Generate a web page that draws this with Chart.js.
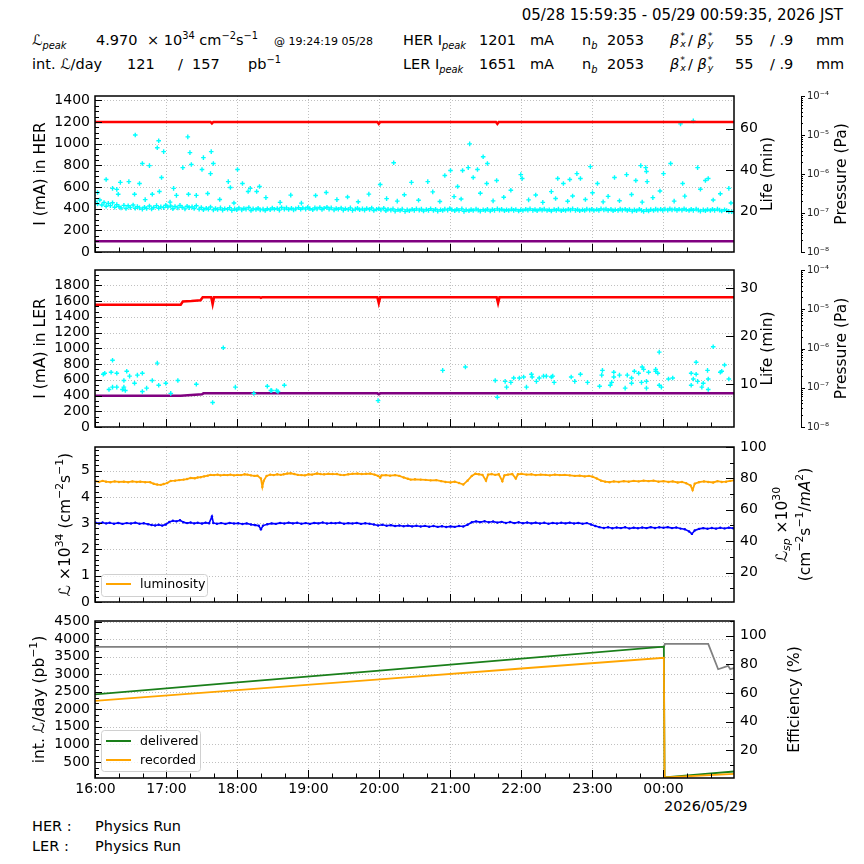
<!DOCTYPE html>
<html>
<head>
<meta charset="utf-8">
<script src="https://cdn.jsdelivr.net/npm/chart.js@4.4.1/dist/chart.umd.min.js"></script>
<style>
  body { margin: 0; background: #fff; width: 864px; height: 864px; overflow: hidden; position: relative;
         font-family: 'DejaVu Sans', sans-serif; color: #000; }
  canvas { position: absolute; left: 0; }
  .t { position: absolute; white-space: nowrap; font-size: 14.5px; line-height: 1; }
  .t sub, .t sup { font-size: 68%; line-height: 0; }
  .sm { font-size: 11px; }
  .ss { position: relative; display: inline-block; width: 0.6em; height: 1em; vertical-align: top; }
  .ss .u { position: absolute; left: 1px; top: -0.2em; font-size: 65%; }
  .ss .d { position: absolute; left: 1px; top: 0.6em; font-size: 65%; font-style: italic; }
</style>
</head>
<body>
<div class="t" style="right:21px;top:8px;font-size:15px">05/28 15:59:35 - 05/29 00:59:35, 2026 JST</div>

<div class="t" style="left:32px;top:33px"><i>ℒ</i><sub><i>peak</i></sub></div>
<div class="t" style="left:96px;top:33px">4.970</div>
<div class="t" style="left:147px;top:33px">× 10<sup>34</sup> cm<sup>−2</sup>s<sup>−1</sup></div>
<div class="t sm" style="left:274px;top:36px">@ 19:24:19 05/28</div>
<div class="t" style="left:403px;top:33px">HER I<sub><i>peak</i></sub></div>
<div class="t" style="left:479px;top:33px">1201</div>
<div class="t" style="left:530px;top:33px">mA</div>
<div class="t" style="left:582px;top:33px">n<sub><i>b</i></sub></div>
<div class="t" style="left:607px;top:33px">2053</div>
<div class="t" style="left:670px;top:33px"><i>β</i><span class="ss"><span class="u">*</span><span class="d">x</span></span>/ <i>β</i><span class="ss"><span class="u">*</span><span class="d">y</span></span></div>
<div class="t" style="left:735px;top:33px">55</div>
<div class="t" style="left:770px;top:33px">/ .9</div>
<div class="t" style="left:816px;top:33px">mm</div>

<div class="t" style="left:32px;top:57px">int. <i>ℒ</i>/day</div>
<div class="t" style="left:127px;top:57px">121</div>
<div class="t" style="left:178px;top:57px">/</div>
<div class="t" style="left:192px;top:57px">157</div>
<div class="t" style="left:248px;top:57px">pb<sup>−1</sup></div>
<div class="t" style="left:403px;top:57px">LER I<sub><i>peak</i></sub></div>
<div class="t" style="left:479px;top:57px">1651</div>
<div class="t" style="left:530px;top:57px">mA</div>
<div class="t" style="left:582px;top:57px">n<sub><i>b</i></sub></div>
<div class="t" style="left:607px;top:57px">2053</div>
<div class="t" style="left:670px;top:57px"><i>β</i><span class="ss"><span class="u">*</span><span class="d">x</span></span>/ <i>β</i><span class="ss"><span class="u">*</span><span class="d">y</span></span></div>
<div class="t" style="left:735px;top:57px">55</div>
<div class="t" style="left:770px;top:57px">/ .9</div>
<div class="t" style="left:816px;top:57px">mm</div>

<div class="t" style="left:664px;top:799px">2026/05/29</div>
<div class="t" style="left:32px;top:819px">HER :</div>
<div class="t" style="left:95px;top:819px">Physics Run</div>
<div class="t" style="left:32px;top:839px">LER :</div>
<div class="t" style="left:95px;top:839px">Physics Run</div>

<script>
// time axis: hours after 16:00 on 05/28
const X_MIN = -0.007, X_MAX = 8.993;
const TIME_TICKS = [0, 1, 2, 3, 4, 5, 6, 7, 8];
const TIME_LABELS = ['16:00', '17:00', '18:00', '19:00', '20:00', '21:00', '22:00', '23:00', '00:00'];

const PRESSURE_TICKS = [1e-8, 1e-7, 1e-6, 1e-5, 1e-4];
const PRESSURE_LABELS = ['10⁻⁸', '10⁻⁷', '10⁻⁶', '10⁻⁵', '10⁻⁴'];

// ---- HER panel ----
const herTicks = [0, 200, 400, 600, 800, 1000, 1200, 1400];
const herLifeTicks = [20, 40, 60];
const herCurrent = [[-0.01,1200],[1.62,1200],[1.64,1186],[1.66,1200],[3.97,1200],[3.99,1183],[4.01,1200],
  [5.64,1200],[5.66,1183],[5.68,1200],[9,1200]];
const herPressure = [[-0.01,1.9e-8],[9,1.9e-8]];
const herLife = [
  [0.00,24.6],[0.03,23.4],[0.06,25.3],[0.09,22.9],[0.12,24.1],[0.15,22.3],[0.18,23.7],[0.21,22.6],[0.24,24.0],[0.27,21.8],
  [0.30,23.1],[0.33,22.2],[0.36,21.4],[0.40,22.7],[0.43,21.2],[0.46,22.5],[0.49,21.7],[0.53,22.9],[0.56,21.3],[0.59,22.1],
  [0.62,21.5],[0.66,20.9],[0.69,21.8],[0.72,21.2],[0.76,22.4],[0.79,21.0],[0.82,21.7],[0.86,22.6],[0.89,21.3],[0.92,22.0],
  [0.96,21.6],[0.99,22.8],[1.02,21.9],[1.06,22.4],[1.09,21.1],[1.12,22.2],[1.16,21.5],[1.19,22.7],[1.22,21.8],[1.26,21.0],
  [1.29,22.3],[1.32,21.6],[1.36,22.0],[1.39,21.2],[1.42,22.5],[1.46,20.9],[1.49,21.7],[1.52,20.6],[1.56,21.3],[1.59,20.8],
  [1.62,21.9],[1.66,20.5],[1.69,21.2],[1.72,20.7],[1.76,21.5],[1.79,20.4],[1.82,21.1],[1.86,20.8],[1.89,21.6],[1.92,20.3],
  [1.96,21.0],[1.99,20.6],[2.02,21.4],[2.06,20.5],[2.09,21.2],[2.12,20.9],[2.16,21.7],[2.19,20.2],[2.22,21.0],[2.26,20.7],
  [2.29,21.3],[2.32,20.5],[2.36,20.9],[2.39,20.2],[2.42,21.1],[2.46,20.6],[2.49,21.4],[2.52,20.8],[2.56,21.2],[2.59,20.4],
  [2.62,21.7],[2.66,20.9],[2.69,21.5],[2.72,20.7],[2.76,21.3],[2.79,20.5],[2.82,21.0],[2.86,21.6],[2.89,20.8],[2.92,21.4],
  [2.96,20.9],[2.99,21.8],[3.02,21.1],[3.06,20.6],[3.09,21.5],[3.12,21.0],[3.16,21.7],[3.19,20.7],[3.22,21.3],[3.26,21.8],
  [3.29,20.9],[3.32,21.5],[3.36,20.5],[3.39,21.2],[3.42,20.8],[3.46,21.4],[3.49,20.4],[3.52,21.1],[3.56,20.7],[3.59,21.5],
  [3.62,20.3],[3.66,20.9],[3.69,21.3],[3.72,20.6],[3.76,21.0],[3.79,20.4],[3.82,21.2],[3.86,20.7],[3.89,21.4],[3.92,20.2],
  [3.96,20.8],[3.99,21.1],[4.02,20.5],[4.06,21.3],[4.09,20.1],[4.12,20.8],[4.16,20.4],[4.19,21.0],[4.22,19.9],[4.26,20.6],
  [4.29,20.2],[4.32,20.9],[4.36,19.8],[4.39,20.5],[4.42,20.1],[4.46,20.8],[4.49,20.3],[4.52,21.0],[4.56,20.4],[4.59,20.9],
  [4.62,20.0],[4.66,20.7],[4.69,20.3],[4.72,21.1],[4.76,20.2],[4.79,20.8],[4.82,19.9],[4.86,20.6],[4.89,20.2],[4.92,20.9],
  [4.96,20.4],[4.99,21.2],[5.02,20.6],[5.06,20.1],[5.09,20.8],[5.12,20.3],[5.16,21.0],[5.19,19.8],[5.22,20.5],[5.26,20.1],
  [5.29,20.7],[5.32,20.2],[5.36,20.9],[5.39,20.4],[5.42,19.9],[5.46,20.6],[5.49,20.2],[5.52,20.8],[5.56,20.0],[5.59,20.7],
  [5.62,20.3],[5.66,21.0],[5.69,20.4],[5.72,20.8],[5.76,20.1],[5.79,20.6],[5.82,20.2],[5.86,20.9],[5.89,20.3],[5.92,20.7],
  [5.96,20.0],[5.99,20.6],[6.02,20.2],[6.06,20.8],[6.09,20.4],[6.12,21.0],[6.16,20.3],[6.19,20.7],[6.22,20.1],[6.26,20.8],
  [6.29,20.4],[6.32,20.9],[6.36,20.2],[6.39,20.6],[6.42,20.0],[6.46,20.7],[6.49,20.3],[6.52,20.9],[6.56,20.1],[6.59,20.6],
  [6.62,20.2],[6.66,20.8],[6.69,20.4],[6.72,21.0],[6.76,20.3],[6.79,20.7],[6.82,20.1],[6.86,20.6],[6.89,20.2],[6.92,20.9],
  [6.96,20.4],[6.99,20.8],[7.02,20.2],[7.06,20.7],[7.09,20.3],[7.12,21.0],[7.16,20.5],[7.19,20.9],[7.22,20.3],[7.26,20.8],
  [7.29,20.1],[7.32,20.6],[7.36,20.3],[7.39,20.9],[7.42,20.4],[7.46,20.8],[7.49,20.2],[7.52,20.7],[7.56,19.9],[7.59,20.5],
  [7.62,20.1],[7.66,20.8],[7.69,20.3],[7.72,19.8],[7.76,20.5],[7.79,20.0],[7.82,20.7],[7.86,20.2],[7.89,20.9],[7.92,20.4],
  [7.96,20.8],[7.99,20.3],[8.02,20.9],[8.06,20.4],[8.09,21.0],[8.12,20.5],[8.16,20.9],[8.19,20.3],[8.22,20.8],[8.26,20.4],
  [8.29,21.0],[8.32,20.6],[8.36,20.2],[8.39,20.8],[8.42,20.3],[8.46,20.9],[8.49,20.4],[8.52,19.9],[8.56,20.5],[8.59,20.1],
  [8.62,20.7],[8.66,20.2],[8.69,20.8],[8.72,20.3],[8.76,20.9],[8.79,20.4],[8.82,20.0],[8.86,20.6],[8.89,20.2],[8.92,19.8],
  [8.96,19.6],[8.99,19.7],
  // scattered higher readings
  [0.56,57.0],[0.89,54.2],[0.87,50.8],[0.96,48.9],[0.66,43.1],[0.76,42.1],[1.30,56.1],[1.33,48.4],[1.35,42.6],[1.52,46.0],
  [1.50,40.2],[1.63,48.9],[1.66,43.1],[1.62,38.2],[1.23,41.1],[2.00,40.2],[0.93,36.3],[0.15,35.3],[0.47,34.3],[0.35,33.9],
  [0.62,33.4],[1.87,34.3],[2.07,33.4],[0.24,31.0],[0.30,30.5],[1.10,31.0],[1.90,31.4],[2.18,31.0],[2.15,29.5],[2.31,31.9],
  [0.03,29.0],[0.90,29.5],[1.31,28.1],[1.58,28.5],[1.14,27.6],[0.32,28.1],[0.55,28.1],[0.80,28.1],[1.42,27.6],[2.27,29.5],
  [5.27,52.7],[5.46,46.4],[5.52,43.1],[5.25,41.1],[5.17,39.7],[5.38,40.2],[5.32,36.3],[5.51,33.4],[5.65,34.8],[4.92,37.3],
  [5.00,39.7],[4.20,43.5],[4.68,34.3],[5.10,31.9],[4.45,33.9],[4.01,32.9],[5.99,37.7],[6.01,35.8],[6.51,35.8],[6.59,33.4],
  [6.68,35.3],[6.78,38.2],[6.83,35.8],[6.97,41.6],[7.07,33.4],[7.31,36.3],[7.48,37.7],[7.61,34.8],[7.68,42.1],[7.75,41.1],
  [7.76,39.2],[7.77,34.3],[8.00,38.2],[8.10,43.1],[8.24,62.4],[8.42,63.9],[8.48,41.1],[8.59,34.8],[8.63,35.8],[8.27,33.4],
  [8.92,31.0],
  [3.10,27.5],[3.25,29.0],[3.40,25.5],[3.55,26.8],[3.70,24.5],[3.85,28.2],[4.10,26.0],[4.25,24.8],[4.35,27.9],[4.55,25.2],
  [4.75,29.3],[4.85,24.6],[5.05,27.0],[5.15,25.8],[5.42,28.6],[5.60,24.9],[5.75,26.7],[5.85,30.1],[6.10,25.4],[6.20,27.8],
  [6.30,24.2],[6.42,29.4],[6.48,26.1],[6.65,24.7],[6.72,27.3],[6.90,25.6],[7.00,28.9],[7.15,24.4],[7.22,27.1],[7.38,25.0],
  [7.55,28.0],[7.70,24.3],[7.85,26.5],[7.95,29.7],[8.15,24.8],[8.30,27.2],[8.52,30.6],[8.70,25.3],[8.80,28.4],[8.95,23.9],
  [2.40,26.5],[2.60,24.2],[2.75,27.7],[2.90,23.8],[1.75,25.6],[1.95,23.9],[0.70,25.5],[1.05,24.3]
];

// ---- LER panel ----
const lerTicks = [0, 200, 400, 600, 800, 1000, 1200, 1400, 1600, 1800];
const lerLifeTicks = [10, 20, 30];
const lerCurrent = [[-0.01,1555],[1.20,1555],[1.23,1595],[1.35,1600],[1.48,1610],[1.51,1648],[1.63,1650],[1.65,1560],
  [1.67,1650],[2.31,1650],[2.33,1640],[2.35,1650],[3.97,1650],[3.99,1575],[4.01,1650],[5.65,1650],[5.67,1575],
  [5.69,1650],[9,1650]];
const lerPressure = [[-0.01,6.3e-8],[1.20,6.3e-8],[1.50,6.8e-8],[1.52,7.2e-8],[3.97,7.2e-8],[3.99,6.8e-8],[4.01,7.2e-8],[9,7.2e-8]];
const lerLife = [
  [0.11,12.1],[0.13,12.3],[0.19,8.9],[0.22,12.5],[0.24,15.0],[0.24,9.4],[0.30,12.3],[0.30,9.4],[0.38,8.9],[0.40,10.8],
  [0.40,9.4],[0.42,8.7],[0.44,12.7],[0.48,11.7],[0.55,10.2],[0.59,11.9],[0.66,12.3],[0.66,8.5],[0.72,9.2],[0.80,10.8],
  [0.87,14.4],[0.89,9.8],[0.99,10.2],[1.06,8.1],[1.16,10.8],[1.42,10.0],[1.65,6.2],[1.80,17.6],[1.97,9.4],[2.23,8.1],
  [2.42,9.6],[2.47,8.7],[2.48,8.7],[2.55,8.7],[2.57,8.5],[2.66,9.8],[3.98,6.6],
  [4.89,12.9],[5.21,13.6],[5.63,10.8],[5.66,7.3],[5.77,10.6],[5.79,9.4],[5.85,10.4],[5.89,11.3],[5.97,11.3],[6.03,11.5],
  [6.07,9.4],[6.14,12.1],[6.15,11.5],[6.21,10.6],[6.25,11.3],[6.31,11.7],[6.35,11.7],[6.42,11.5],[6.44,11.7],[6.46,10.4],
  [6.70,11.5],[6.75,10.6],[6.83,12.1],[6.93,10.4],[7.10,9.6],[7.13,11.9],[7.14,12.9],[7.25,9.8],[7.27,10.4],[7.30,12.5],
  [7.30,11.5],[7.38,11.9],[7.46,9.2],[7.49,11.9],[7.55,11.3],[7.55,10.2],[7.59,12.7],[7.65,12.3],[7.69,10.4],[7.70,13.6],
  [7.72,13.1],[7.76,10.6],[7.76,9.2],[7.79,12.5],[7.89,13.1],[7.89,12.7],[7.92,12.3],[7.94,16.7],[7.94,9.8],[7.97,9.4],
  [8.07,11.1],[8.13,11.3],[8.39,12.3],[8.39,9.8],[8.42,11.1],[8.46,14.6],[8.46,12.1],[8.48,10.6],[8.54,9.4],[8.56,10.2],
  [8.62,12.9],[8.63,11.1],[8.63,8.9],[8.70,17.8],[8.80,12.5],[8.82,12.7],[8.86,14.0],[8.92,11.1]
];

// ---- luminosity panel ----
const lumTicks = [0, 1, 2, 3, 4, 5];
const lspTicks = [20, 40, 60, 80, 100];
const luminosity = [
  [0.00,4.60],[0.05,4.57],[0.10,4.61],[0.15,4.58],[0.21,4.56],[0.27,4.59],[0.33,4.57],[0.40,4.58],[0.46,4.56],[0.52,4.59],
  [0.58,4.57],[0.63,4.58],[0.70,4.56],[0.77,4.56],[0.82,4.50],[0.87,4.47],[0.92,4.46],[0.96,4.49],[1.01,4.53],[1.06,4.61],
  [1.12,4.62],[1.18,4.64],[1.24,4.66],[1.29,4.68],[1.34,4.72],[1.40,4.71],[1.44,4.74],[1.48,4.75],[1.53,4.78],[1.58,4.81],
  [1.62,4.84],[1.67,4.83],[1.72,4.85],[1.76,4.82],[1.81,4.84],[1.86,4.83],[1.90,4.85],[1.95,4.82],[2.00,4.84],[2.05,4.83],
  [2.10,4.86],[2.14,4.85],[2.19,4.82],[2.24,4.80],[2.28,4.81],[2.33,4.70],[2.35,4.38],[2.37,4.62],[2.41,4.80],[2.46,4.85],
  [2.51,4.83],[2.56,4.86],[2.61,4.84],[2.65,4.86],[2.70,4.89],[2.75,4.90],[2.80,4.87],[2.85,4.84],[2.90,4.83],[2.95,4.82],
  [3.00,4.86],[3.05,4.85],[3.12,4.89],[3.17,4.87],[3.22,4.86],[3.28,4.88],[3.34,4.87],[3.40,4.87],[3.45,4.84],[3.50,4.83],
  [3.56,4.86],[3.62,4.88],[3.69,4.89],[3.75,4.87],[3.81,4.88],[3.87,4.89],[3.93,4.85],[3.98,4.80],[4.01,4.73],[4.03,4.82],
  [4.09,4.83],[4.15,4.81],[4.22,4.83],[4.28,4.80],[4.34,4.74],[4.40,4.69],[4.44,4.66],[4.50,4.67],[4.58,4.66],[4.65,4.65],
  [4.72,4.63],[4.80,4.64],[4.87,4.60],[4.93,4.57],[5.00,4.55],[5.06,4.58],[5.12,4.53],[5.18,4.47],[5.24,4.62],[5.30,4.80],
  [5.35,4.88],[5.40,4.86],[5.45,4.84],[5.50,4.62],[5.53,4.85],[5.58,4.87],[5.63,4.84],[5.68,4.86],[5.73,4.60],[5.76,4.82],
  [5.81,4.85],[5.87,4.87],[5.92,4.70],[5.95,4.86],[6.00,4.88],[6.07,4.85],[6.14,4.86],[6.20,4.83],[6.27,4.85],[6.34,4.84],
  [6.40,4.82],[6.47,4.85],[6.54,4.83],[6.61,4.84],[6.68,4.82],[6.75,4.80],[6.82,4.81],[6.89,4.78],[6.95,4.80],[7.00,4.77],
  [7.06,4.70],[7.12,4.62],[7.18,4.58],[7.24,4.56],[7.30,4.59],[7.37,4.57],[7.44,4.60],[7.51,4.58],[7.58,4.61],[7.65,4.59],
  [7.72,4.62],[7.79,4.60],[7.86,4.62],[7.93,4.58],[8.00,4.60],[8.07,4.57],[8.13,4.59],[8.20,4.55],[8.26,4.57],[8.32,4.52],
  [8.38,4.44],[8.41,4.26],[8.44,4.50],[8.50,4.56],[8.57,4.59],[8.63,4.57],[8.70,4.55],[8.76,4.60],[8.82,4.57],[8.88,4.58],
  [8.94,4.61],[9.00,4.63]
];
const specificLum = [
  [0.00,51.8],[0.05,51.2],[0.10,51.9],[0.15,51.3],[0.20,51.7],[0.26,51.1],[0.32,51.6],[0.38,51.0],[0.44,51.5],[0.50,51.2],
  [0.56,51.8],[0.62,51.1],[0.68,51.4],[0.74,50.8],[0.79,50.3],[0.84,50.0],[0.89,50.4],[0.94,49.9],[0.99,50.6],[1.04,52.2],
  [1.09,53.0],[1.14,52.6],[1.19,53.3],[1.24,52.0],[1.29,51.5],[1.34,51.9],[1.39,51.3],[1.44,51.7],[1.50,51.2],[1.55,51.8],
  [1.60,51.4],[1.64,55.7],[1.66,51.6],[1.71,51.1],[1.77,51.5],[1.83,51.0],[1.89,51.6],[1.95,51.2],[2.01,51.4],[2.07,50.9],
  [2.13,51.3],[2.19,50.6],[2.25,50.2],[2.30,49.8],[2.33,47.5],[2.36,49.9],[2.42,50.8],[2.48,51.3],[2.54,51.0],[2.60,51.6],
  [2.66,51.2],[2.72,51.8],[2.78,51.3],[2.84,51.7],[2.90,51.1],[2.96,51.5],[3.02,51.0],[3.08,51.6],[3.14,51.3],[3.20,51.9],
  [3.26,51.2],[3.32,51.6],[3.38,51.4],[3.44,51.8],[3.50,51.1],[3.56,51.5],[3.62,51.2],[3.68,51.6],[3.74,51.0],[3.80,51.4],
  [3.86,51.1],[3.92,50.6],[3.98,50.0],[4.04,50.4],[4.10,49.8],[4.16,50.2],[4.22,49.6],[4.28,50.0],[4.34,49.5],[4.40,49.9],
  [4.46,49.4],[4.52,49.8],[4.58,49.3],[4.64,49.7],[4.70,49.2],[4.76,49.6],[4.82,49.1],[4.88,49.5],[4.94,49.0],[5.00,49.4],
  [5.06,49.1],[5.12,49.6],[5.18,49.3],[5.24,50.4],[5.30,52.0],[5.36,52.6],[5.42,52.1],[5.48,52.7],[5.54,52.0],[5.60,52.5],
  [5.66,51.8],[5.72,52.3],[5.78,51.6],[5.84,52.2],[5.90,51.5],[5.96,52.0],[6.02,51.4],[6.08,51.9],[6.14,51.3],[6.20,51.8],
  [6.26,51.2],[6.32,51.7],[6.38,51.1],[6.44,51.6],[6.50,51.2],[6.56,51.7],[6.62,51.3],[6.68,51.8],[6.74,51.2],[6.80,51.6],
  [6.86,51.1],[6.92,51.5],[6.98,50.6],[7.04,49.6],[7.10,48.9],[7.16,48.4],[7.22,48.8],[7.28,48.2],[7.34,48.7],[7.40,48.3],
  [7.46,48.8],[7.52,48.1],[7.58,48.6],[7.64,48.2],[7.70,48.7],[7.76,48.3],[7.82,48.9],[7.88,48.4],[7.94,48.8],[8.00,48.5],
  [8.06,48.9],[8.12,48.3],[8.18,48.7],[8.24,48.0],[8.30,47.6],[8.36,46.2],[8.40,44.6],[8.44,46.8],[8.50,47.8],[8.56,48.3],
  [8.62,47.9],[8.68,48.4],[8.74,48.0],[8.80,48.5],[8.86,48.1],[8.92,48.6],[8.98,48.2]
];

// ---- integrated luminosity panel ----
const intTicks = [500, 1000, 1500, 2000, 2500, 3000, 3500, 4000, 4500];
const effTicks = [20, 40, 60, 80, 100];
const delivered = [[-0.01,2426],[2,2766],[4,3106],[6,3446],[8.005,3786],[8.015,60],[9,226]];
const recorded = [[-0.01,2243],[2,2550],[4,2857],[6,3164],[8.005,3471],[8.015,55],[9,157]];
const efficiency = [[-0.01,92.2],[8.005,92.2],[8.02,94.3],[8.63,94.3],[8.77,76.6],[8.91,79.0],[8.94,76.6],[9,77.5]];

// ---------------------------------------------------------------
const FONT = "'DejaVu Sans', sans-serif";
Chart.defaults.font.family = FONT;
Chart.defaults.font.size = 14;
Chart.defaults.color = '#000';

const PAD = 16;
const PANEL = {};   // per canvas drawing extras
const pts = a => a.map(([x, y]) => ({ x, y }));

function fontFor(s, size) {
  const sz = (s.sup || s.sub) ? size * 0.7 : size;
  return (s.it ? 'italic ' : '') + sz + 'px ' + FONT;
}
function richWidth(ctx, segs, size) {
  let w = 0;
  segs.forEach(s => { ctx.font = fontFor(s, size); w += ctx.measureText(s.t).width; });
  return w;
}
function drawRich(ctx, segs, x, y, size) {
  ctx.textBaseline = 'middle';
  ctx.textAlign = 'left';
  segs.forEach(s => {
    ctx.font = fontFor(s, size);
    const dy = s.sup ? -size * 0.38 : s.sub ? size * 0.3 : 0;
    ctx.fillText(s.t, x, y + dy);
    x += ctx.measureText(s.t).width;
  });
}

function minorValues(min, max, step, majors) {
  const out = [];
  if (!step) return out;
  for (let k = Math.ceil(min / step - 1e-9); k * step <= max + 1e-9; k++) {
    const v = k * step;
    if (!majors.some(m => Math.abs(m - v) < step * 1e-3)) out.push(v);
  }
  return out;
}

const mplPlugin = {
  id: 'mpl',
  beforeDatasetsDraw(chart) {
    const cfg = PANEL[chart.canvas.id];
    const { ctx, chartArea: a } = chart;
    ctx.save();
    ctx.strokeStyle = '#b0b0b0';
    ctx.lineWidth = 0.8;
    ctx.setLineDash([1, 2]);
    ctx.beginPath();
    const xs = chart.scales.x;
    TIME_TICKS.forEach(v => {
      const p = Math.round(xs.getPixelForValue(v)) + 0.5;
      ctx.moveTo(p, a.top); ctx.lineTo(p, a.bottom);
    });
    const ys = chart.scales.y;
    cfg.yGrid.forEach(v => {
      const p = Math.round(ys.getPixelForValue(v)) + 0.5;
      ctx.moveTo(a.left, p); ctx.lineTo(a.right, p);
    });
    ctx.stroke();
    ctx.restore();
  },
  afterDatasetsDraw(chart) {
    const cfg = PANEL[chart.canvas.id];
    const { ctx, chartArea: a } = chart;
    ctx.save();
    ctx.strokeStyle = '#000';
    ctx.lineWidth = 1;
    ctx.beginPath();
    cfg.ticks.forEach(t => {
      const s = chart.scales[t.axis];
      const draw = (v, len) => {
        const p = Math.round(s.getPixelForValue(v)) + 0.5;
        if (t.side === 'left') { ctx.moveTo(a.left, p); ctx.lineTo(a.left + len, p); }
        else if (t.side === 'right') { ctx.moveTo(a.right, p); ctx.lineTo(a.right - len, p); }
        else if (t.side === 'bottom') { ctx.moveTo(p, a.bottom); ctx.lineTo(p, a.bottom - len); }
        else if (t.side === 'spine') { ctx.moveTo(s.left, p); ctx.lineTo(s.left + len, p); }
      };
      t.major.forEach(v => draw(v, t.majLen));
      t.minorList.forEach(v => draw(v, t.minLen));
    });
    ctx.stroke();
    // separate pressure spine
    if (chart.scales.p) {
      const s = chart.scales.p;
      ctx.beginPath();
      ctx.moveTo(Math.round(s.left) + 0.5, a.top);
      ctx.lineTo(Math.round(s.left) + 0.5, a.bottom);
      ctx.stroke();
    }
    ctx.lineWidth = 1.5;
    ctx.strokeRect(a.left, a.top, a.right - a.left, a.bottom - a.top);
    ctx.restore();
  },
  afterDraw(chart) {
    const cfg = PANEL[chart.canvas.id];
    const { ctx, chartArea: a } = chart;
    const yc = (a.top + a.bottom) / 2;
    ctx.save();
    ctx.fillStyle = '#000';
    cfg.titles.forEach(tt => {
      const size = tt.size || 15.5;
      ctx.save();
      ctx.translate(tt.x, yc + (tt.dy || 0));
      ctx.rotate(-Math.PI / 2);
      drawRich(ctx, tt.segs, -richWidth(ctx, tt.segs, size) / 2, 0, size);
      ctx.restore();
    });
    if (cfg.legend) {
      const L = cfg.legend, off = cfg.top;
      ctx.beginPath();
      ctx.roundRect(L.x + 0.5, L.y - off + 0.5, L.w, L.h, 3);
      ctx.fillStyle = 'rgba(255,255,255,0.8)';
      ctx.fill();
      ctx.strokeStyle = '#d0d0d0';
      ctx.lineWidth = 1;
      ctx.stroke();
      L.items.forEach(it => {
        const y = it.y - off;
        ctx.strokeStyle = it.color;
        ctx.lineWidth = 2;
        ctx.beginPath();
        ctx.moveTo(L.x + 5, y); ctx.lineTo(L.x + 30, y);
        ctx.stroke();
        ctx.fillStyle = '#000';
        ctx.font = '12.6px ' + FONT;
        ctx.textBaseline = 'middle';
        ctx.textAlign = 'left';
        ctx.fillText(it.label, L.x + 39, y + 1);
      });
    }
    ctx.restore();
  }
};

function xScale(labels) {
  return {
    type: 'linear', min: X_MIN, max: X_MAX,
    grid: { display: false, drawTicks: false }, border: { display: false },
    afterBuildTicks: s => { s.ticks = TIME_TICKS.map(v => ({ value: v })); },
    afterFit: s => { s.height = labels ? 28 : PAD; },
    ticks: { display: labels, autoSkip: false, maxRotation: 0, padding: 3,
             callback: (v, i) => TIME_LABELS[i] }
  };
}
function yScale(position, min, max, ticks, width, pad) {
  return {
    type: 'linear', position, min, max,
    grid: { display: false, drawTicks: false }, border: { display: false },
    afterBuildTicks: s => { s.ticks = ticks.map(v => ({ value: v })); },
    afterFit: s => { s.width = width; },
    ticks: { autoSkip: false, padding: pad, callback: v => String(v) }
  };
}
function pressureScale() {
  return {
    type: 'logarithmic', position: 'right', min: 1e-8, max: 1e-4, weight: 1,
    grid: { display: false, drawTicks: false }, border: { display: false },
    afterBuildTicks: s => { s.ticks = PRESSURE_TICKS.map(v => ({ value: v })); },
    afterFit: s => { s.width = 63; },
    ticks: { autoSkip: false, padding: 6, color: '#222', font: { size: 10 },
             callback: (v, i) => PRESSURE_LABELS[i] }
  };
}
function pressureMinors() {
  const out = [];
  for (let d = -8; d < -4; d++) for (let m = 2; m <= 9; m++) out.push(m * Math.pow(10, d));
  return out;
}

function line(data, color, width, axis) {
  return { data: pts(data), borderColor: color, borderWidth: width, pointRadius: 0, yAxisID: axis, tension: 0, fill: false };
}
function dots(data, color, axis, style, r, bw) {
  return { data: pts(data), showLine: false, pointStyle: style, pointRadius: r, pointBorderWidth: bw,
           pointBorderColor: color, pointBackgroundColor: color, yAxisID: axis };
}

function panel(id, plotTop, plotH, xLabels, scales, datasets, cfg) {
  const c = document.createElement('canvas');
  c.id = id;
  const xH = xLabels ? 28 : PAD;
  c.width = 864;
  c.height = PAD + plotH + xH;
  c.style.top = (plotTop - PAD) + 'px';
  document.body.appendChild(c);
  cfg.top = plotTop - PAD;
  cfg.ticks.push({ axis: 'x', side: 'bottom', major: TIME_TICKS, minorList: minorValues(X_MIN, X_MAX, 1 / 3, TIME_TICKS), majLen: 8, minLen: 4.5 });
  PANEL[id] = cfg;
  return new Chart(c, {
    type: 'line',
    data: { datasets },
    options: {
      responsive: false, animation: false, devicePixelRatio: 1, events: [],
      layout: { padding: { top: PAD, left: 0, right: 0, bottom: 0 } },
      scales,
      plugins: { legend: { display: false }, tooltip: { enabled: false } }
    },
    plugins: [mplPlugin]
  });
}

function leftTicks(min, max, major, step) {
  return { axis: 'y', side: 'left', major, minorList: minorValues(min, max, step, major), majLen: 7, minLen: 4 };
}
function rightTicks(min, max, major, step) {
  return { axis: 'y1', side: 'right', major, minorList: minorValues(min, max, step, major), majLen: 8, minLen: 4 };
}
const pTicks = () => ({ axis: 'p', side: 'spine', major: PRESSURE_TICKS, minorList: pressureMinors(), majLen: 4, minLen: 2 });

// HER
panel('her', 96, 156, false, {
  x: xScale(false),
  y: yScale('left', 0, 1440, herTicks, 95, 5),
  y1: yScale('right', 0, 76, herLifeTicks, 67, 6),
  p: pressureScale()
}, [
  line(herCurrent, '#ff0000', 2.5, 'y'),
  dots(herLife, '#00ffff', 'y1', 'cross', 2.3, 1.4),
  line(herPressure, '#800080', 2.5, 'p')
], {
  yGrid: herTicks,
  ticks: [leftTicks(0, 1440, herTicks, 50), rightTicks(0, 76, herLifeTicks, 0), pTicks()],
  titles: [
    { x: 41, segs: [{ t: 'I (mA) in HER' }] },
    { x: 768, segs: [{ t: 'Life (min)' }] },
    { x: 842, segs: [{ t: 'Pressure (Pa)' }] }
  ]
});

// LER
panel('ler', 270, 157, false, {
  x: xScale(false),
  y: yScale('left', 0, 1995, lerTicks, 95, 5),
  y1: yScale('right', 1.1, 33.8, lerLifeTicks, 67, 6),
  p: pressureScale()
}, [
  line(lerCurrent, '#ff0000', 2.5, 'y'),
  dots(lerLife, '#00ffff', 'y1', 'cross', 2.3, 1.4),
  line(lerPressure, '#800080', 2.5, 'p')
], {
  yGrid: lerTicks,
  ticks: [leftTicks(0, 1995, lerTicks, 200 / 3), rightTicks(1.1, 33.8, lerLifeTicks, 0), pTicks()],
  titles: [
    { x: 41, segs: [{ t: 'I (mA) in LER' }] },
    { x: 768, segs: [{ t: 'Life (min)' }] },
    { x: 842, segs: [{ t: 'Pressure (Pa)' }] }
  ]
});

// luminosity
panel('lum', 447, 155, false, {
  x: xScale(false),
  y: yScale('left', 0, 5.9, lumTicks, 95, 5),
  y1: yScale('right', 1.2, 100, lspTicks, 130, 6)
}, [
  { ...line(luminosity, '#ffa500', 1.8, 'y'), pointRadius: 1.2, pointBackgroundColor: '#ffa500', pointBorderWidth: 0 },
  { ...line(specificLum, '#0000ff', 1.6, 'y1'), pointRadius: 1.2, pointBackgroundColor: '#0000ff', pointBorderWidth: 0 }
], {
  yGrid: lumTicks,
  ticks: [leftTicks(0, 5.9, lumTicks, 0.2), rightTicks(1.2, 100, lspTicks, 10)],
  titles: [
    { x: 66, segs: [{ t: 'ℒ', it: true }, { t: ' ×10' }, { t: '34', sup: true }, { t: ' (cm' }, { t: '−2', sup: true }, { t: 's' }, { t: '−1', sup: true }, { t: ')' }] },
    { x: 783, segs: [{ t: 'ℒ', it: true }, { t: 'sp', sub: true, it: true }, { t: ' ×10' }, { t: '30', sup: true }] },
    { x: 806, segs: [{ t: '(cm' }, { t: '−2', sup: true }, { t: 's' }, { t: '−1', sup: true }, { t: '/' }, { t: 'mA', it: true }, { t: '2', sup: true }, { t: ')' }] }
  ],
  legend: { x: 101, y: 574, w: 106, h: 22, items: [{ label: 'luminosity', color: '#ffa500', y: 584 }] }
});

// integrated luminosity
panel('int', 621, 157, true, {
  x: xScale(true),
  y: yScale('left', 40, 4520, intTicks, 95, 5),
  y1: yScale('right', 0.6, 110.3, effTicks, 130, 6)
}, [
  line(recorded, '#ffa500', 1.8, 'y'),
  line(delivered, '#1a7f1a', 1.8, 'y'),
  line(efficiency, '#808080', 1.8, 'y1')
], {
  yGrid: intTicks,
  ticks: [leftTicks(40, 4520, intTicks, 500 / 3), rightTicks(0.6, 110.3, effTicks, 10)],
  titles: [
    { x: 40, segs: [{ t: 'int. ' }, { t: 'ℒ', it: true }, { t: '/day (pb' }, { t: '−1', sup: true }, { t: ')' }] },
    { x: 795, segs: [{ t: 'Efficiency (%)' }] }
  ],
  legend: { x: 101, y: 730, w: 99, h: 41, items: [
    { label: 'delivered', color: '#1a7f1a', y: 741 },
    { label: 'recorded', color: '#ffa500', y: 760 }
  ] }
});
</script>
</body>
</html>
